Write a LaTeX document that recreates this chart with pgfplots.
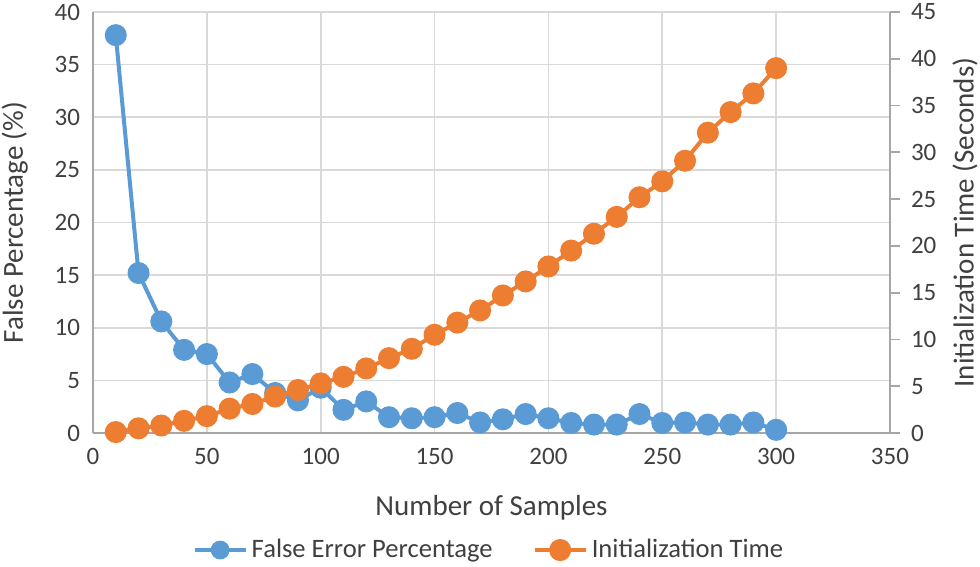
\documentclass[border=0pt]{standalone}
\usepackage{pgfplots}
\pgfplotsset{compat=1.18}
\usepackage{fontspec}
\setmainfont{Carlito}
\definecolor{cblue}{HTML}{5B9BD5}
\definecolor{corange}{HTML}{ED7D31}
\definecolor{gridc}{HTML}{D9D9D9}
\definecolor{axc}{HTML}{A6A6A6}
\definecolor{txt}{HTML}{404040}
\pgfplotstableread{
x y
10 37.8
20 15.2
30 10.6
40 7.9
50 7.5
60 4.8
70 5.6
80 3.8
90 3.1
100 4.3
110 2.2
120 3.0
130 1.5
140 1.4
150 1.5
160 1.9
170 1.0
180 1.3
190 1.8
200 1.4
210 0.95
220 0.8
230 0.8
240 1.8
250 0.95
260 1.0
270 0.8
280 0.8
290 1.0
300 0.3
}\falseerr
\pgfplotstableread{
x y
10 0.1
20 0.5
30 0.8
40 1.3
50 1.8
60 2.6
70 3.1
80 3.9
90 4.6
100 5.3
110 6.0
120 6.9
130 8.0
140 9.0
150 10.5
160 11.8
170 13.1
180 14.7
190 16.2
200 17.8
210 19.5
220 21.3
230 23.1
240 25.2
250 26.9
260 29.1
270 32.1
280 34.3
290 36.3
300 39.0
}\inittime
\begin{document}
\begin{tikzpicture}
\useasboundingbox (0,0) rectangle (490pt,283.5pt);
\pgfplotsset{
  every axis/.append style={
    scale only axis, width=398.5pt, height=210.5pt,
    at={(46.5pt,67pt)}, anchor=south west,
    xmin=0, xmax=350,
    /pgf/number format/assume math mode=true,
    tick label style={font=\fontsize{12.5}{14}\selectfont, text=txt},
    label style={font=\fontsize{14.5}{16}\selectfont, text=txt},
  }
}
\begin{axis}[
  ymin=0, ymax=40,
  xtick={0,50,...,350}, ytick={0,5,...,40},
  grid=major, grid style={gridc, line width=0.8pt},
  major tick length=0pt,
  axis x line*=bottom, axis y line*=left,
  x axis line style={draw=axc, line width=0.9pt, -},
  y axis line style={draw=axc, line width=0.9pt, -},
  xticklabel style={yshift=-4pt},
  yticklabel style={xshift=-3pt},
  xlabel={Number of Samples},
  xlabel style={at={(axis description cs:0.5,-0.178)}, anchor=center},
  ylabel={False Percentage (\%)},
  ylabel style={at={(axis description cs:-0.098,0.5)}, anchor=center},
]
\addplot[cblue, line width=2pt, mark=*, mark size=4.5pt, mark options={fill=cblue, draw=cblue}] table {\falseerr};
\end{axis}
\begin{axis}[
  ymin=0, ymax=45,
  ytick={0,5,...,45},
  axis x line=none,
  axis y line*=right,
  y axis line style={draw=axc, line width=0.9pt, -},
  ytick style={draw=axc, line width=0.9pt},
  major tick length=5pt,
  tick align=outside,
  yticklabel style={xshift=2pt},
  ylabel={Initialization Time (Seconds)},
  ylabel style={at={(axis description cs:1.094,0.5)}, anchor=center, rotate=0},
  legend style={at={(axis description cs:0.498,-0.278)}, anchor=center, draw=none,
    legend columns=2, font=\fontsize{13.3}{15}\selectfont, text=txt,
    /tikz/every even column/.append style={column sep=18pt}},
  legend image code/.code={
    \draw[#1, line width=2pt] (0cm,0cm) -- (0.9cm,0cm);
    \draw[#1, mark size=4.5pt] plot coordinates {(0.45cm,0cm)};
  },
]
\addlegendimage{cblue, mark=*, mark options={fill=cblue, draw=cblue}}
\addlegendentry{False Error Percentage}
\addplot[corange, line width=2pt, mark=*, mark size=4.5pt, mark options={fill=corange, draw=corange}] table {\inittime};
\addlegendentry{Initialization Time}
\end{axis}
\end{tikzpicture}
\end{document}
